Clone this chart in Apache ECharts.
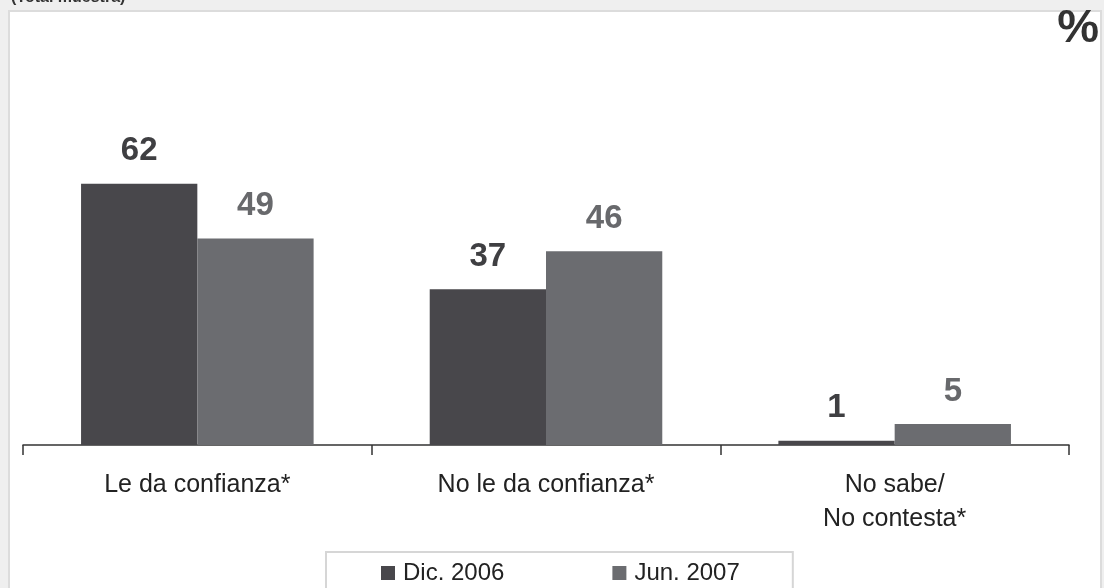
<!DOCTYPE html>
<html><head><meta charset="utf-8">
<script src="https://cdn.jsdelivr.net/npm/echarts@6/dist/echarts.min.js"></script>
<style>html,body{margin:0;padding:0;background:#efefef;}#c{width:1104px;height:588px;}</style>
</head><body><div id="c"></div>
<script>
var categories = ['Le da confianza*', 'No le da confianza*', 'No sabe/\nNo contesta*'];
var seriesNames = ['Dic. 2006', 'Jun. 2007'];
var dic2006 = [62, 37, 1];
var jun2007 = [49, 46, 5];
var colors = ['#48474b', '#6b6c70'];
var labelColors = ['#3f3f42', '#68696c'];

var chart = echarts.init(document.getElementById('c'), null, {renderer: 'canvas'});
var font = 'Liberation Sans, Arial, sans-serif';
function mk(name, data, i) {
  return {
    name: name, type: 'bar', data: data, barGap: '0%', barCategoryGap: '33.3%',
    itemStyle: {color: colors[i]},
    label: {show: true, position: 'top', distance: 16, color: labelColors[i],
            fontFamily: font, fontWeight: 'bold', fontSize: 33}
  };
}
chart.setOption({
  backgroundColor: '#efefef',
  animation: false,
  graphic: [
    {type: 'rect', shape: {x: 9, y: 11, width: 1092, height: 582},
     style: {fill: '#ffffff', stroke: '#dcdcdc', lineWidth: 2}, z: -10},
    {type: 'text', left: 11, top: -10,
     style: {text: '(Total muestra)', font: 'bold 16px ' + font, fill: '#333'}},
    {type: 'text', right: 5, top: 6,
     style: {text: '%', font: 'bold 47px ' + font, fill: '#333'}}
  ],
  grid: {left: 23, right: 35, top: 108, bottom: 143, containLabel: false},
  legend: {
    data: seriesNames, top: 552, left: 326,
    itemWidth: 14, itemHeight: 14, itemGap: 108,
    padding: [9, 53, 14, 55],
    borderColor: '#d6d6d6', borderWidth: 2, backgroundColor: '#fff',
    icon: 'rect',
    textStyle: {fontFamily: font, fontSize: 24, color: '#222', padding: [0, 0, 0, 3]}
  },
  xAxis: {
    type: 'category', data: categories,
    axisLine: {lineStyle: {color: '#333', width: 1.5}},
    axisTick: {show: true, length: 10, lineStyle: {color: '#333', width: 1.5}},
    axisLabel: {fontFamily: font, fontSize: 25, color: '#222', margin: 23, lineHeight: 34}
  },
  yAxis: {type: 'value', min: 0, max: 80, show: false, splitLine: {show: false}},
  series: [mk(seriesNames[0], dic2006, 0), mk(seriesNames[1], jun2007, 1)]
});
</script></body></html>
